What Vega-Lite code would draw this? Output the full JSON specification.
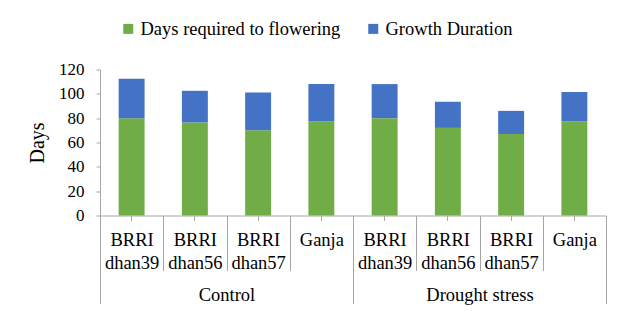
{
  "$schema": "https://vega.github.io/schema/vega-lite/v6.json",
  "width": 506,
  "height": 146,
  "autosize": {"type": "none"},
  "padding": {"left": 100, "top": 69.5, "right": 23, "bottom": 99.5},
  "config": {
    "font": "Liberation Serif",
    "view": {"stroke": null},
    "axis": {"labelFont": "Liberation Serif", "titleFont": "Liberation Serif", "labelColor": "black", "titleColor": "black", "domainColor": "#a6a6a6", "tickColor": "#a6a6a6", "grid": false},
    "legend": {"labelFont": "Liberation Serif"}
  },
  "layer": [
    {
      "data": {"values": [
        {"plot": "Control|BRRI dhan39", "series": "Days required to flowering", "days": 80},
        {"plot": "Control|BRRI dhan39", "series": "Growth Duration", "days": 32.5},
        {"plot": "Control|BRRI dhan56", "series": "Days required to flowering", "days": 76.5},
        {"plot": "Control|BRRI dhan56", "series": "Growth Duration", "days": 26},
        {"plot": "Control|BRRI dhan57", "series": "Days required to flowering", "days": 70},
        {"plot": "Control|BRRI dhan57", "series": "Growth Duration", "days": 31},
        {"plot": "Control|Ganja", "series": "Days required to flowering", "days": 77.5},
        {"plot": "Control|Ganja", "series": "Growth Duration", "days": 30.5},
        {"plot": "Drought stress|BRRI dhan39", "series": "Days required to flowering", "days": 80},
        {"plot": "Drought stress|BRRI dhan39", "series": "Growth Duration", "days": 28},
        {"plot": "Drought stress|BRRI dhan56", "series": "Days required to flowering", "days": 72},
        {"plot": "Drought stress|BRRI dhan56", "series": "Growth Duration", "days": 21.5},
        {"plot": "Drought stress|BRRI dhan57", "series": "Days required to flowering", "days": 67},
        {"plot": "Drought stress|BRRI dhan57", "series": "Growth Duration", "days": 19},
        {"plot": "Drought stress|Ganja", "series": "Days required to flowering", "days": 77.5},
        {"plot": "Drought stress|Ganja", "series": "Growth Duration", "days": 24}
      ]},
      "layer": [
        {
          "mark": {"type": "bar", "width": {"band": 0.41}},
          "encoding": {
            "x": {"field": "plot", "type": "nominal", "sort": null,
              "scale": {"paddingInner": 0, "paddingOuter": 0},
              "axis": {"orient": "bottom", "title": null, "tickBand": "extent", "tickSize": 55,
                "labelExpr": "isString(datum.value) ? split(split(datum.value, '|')[1], ' ') : ''",
                "labelAngle": 0, "labelBaseline": "top", "labelPadding": -40,
                "labelFontSize": 18.5, "labelLineHeight": 23}},
            "y": {"field": "days", "type": "quantitative", "stack": "zero",
              "scale": {"domain": [0, 120]},
              "axis": {"title": "Days", "values": [0, 20, 40, 60, 80, 100, 120], "tickSize": 4,
                "labelFontSize": 17, "labelPadding": 12, "titleFontSize": 20, "titleFontWeight": "normal", "titlePadding": 11}},
            "color": {"field": "series", "type": "nominal",
              "scale": {"domain": ["Days required to flowering", "Growth Duration"], "range": ["#70ad47", "#4472c4"]},
              "legend": {"title": null, "orient": "none", "direction": "horizontal", "legendX": 19, "legendY": -50,
                "symbolType": "square", "symbolSize": 100, "symbolStrokeWidth": 0, "labelFontSize": 18.5, "labelColor": "black",
                "labelLimit": 400, "columnPadding": 23, "labelOffset": 3}},
            "order": {"field": "series", "sort": "ascending"}
          }
        },
        {
          "mark": {"type": "text", "text": ""},
          "encoding": {
            "x": {"field": "plot", "type": "nominal", "sort": null,
              "axis": {"orient": "bottom", "title": null, "domain": false, "labels": false, "tickSize": 5}}
          }
        }
      ],
      "resolve": {"axis": {"x": "independent"}}
    },
    {
      "data": {"values": [{"treatment": "Control"}, {"treatment": "Drought stress"}]},
      "mark": {"type": "text", "text": ""},
      "encoding": {
        "x": {"field": "treatment", "type": "nominal", "sort": null,
          "scale": {"paddingInner": 0, "paddingOuter": 0},
          "axis": {"orient": "bottom", "offset": 55, "title": null, "domain": false, "tickBand": "extent", "tickSize": 33,
            "labelAngle": 0, "labelBaseline": "top", "labelPadding": -18, "labelFontSize": 18.5}}
      }
    }
  ],
  "resolve": {"scale": {"x": "independent"}}
}
